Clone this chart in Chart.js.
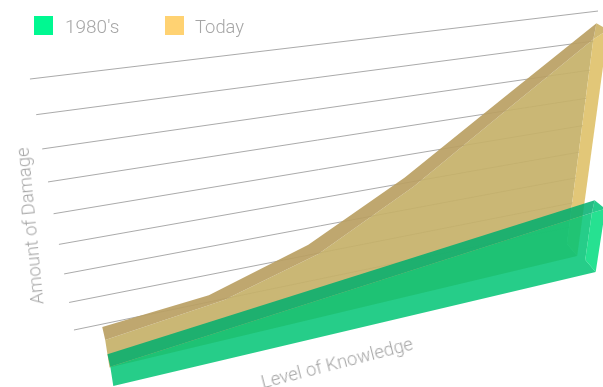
<!DOCTYPE html>
<html>
<head>
<meta charset="utf-8">
<title>Amount of Damage vs Level of Knowledge</title>
<script src="https://cdn.jsdelivr.net/npm/chart.js@4"></script>
<style>
  body { margin: 0; background: #fff; }
  #wrap { position: relative; width: 603px; height: 387px; overflow: hidden; font-family: Roboto, sans-serif; font-weight: 300; color: #a6a6a6; }
  #chart { position: absolute; left: 0; top: 0; }
  .swatch { position: absolute; top: 16px; width: 19px; height: 19px; }
  .txt { position: absolute; white-space: nowrap; font-size: 18.4px; line-height: 20px; }
</style>
</head>
<body>
<div id="wrap">
  <canvas id="chart" width="603" height="387"></canvas>
  <div class="swatch" style="left:34px;background:#00f891"></div>
  <div class="txt" style="left:65px;top:17px;font-size:19px">1980's</div>
  <div class="swatch" style="left:165px;background:#ffd272"></div>
  <div class="txt" style="left:195px;top:17px;font-size:18.4px">Today</div>
  <div class="txt" style="left:30px;top:226px;transform:translate(-50%,-50%) rotate(-95.5deg)">Amount of Damage</div>
  <div class="txt" style="left:337px;top:363px;transform:translate(-50%,-50%) rotate(-14.5deg)">Level of Knowledge</div>
</div>
<script>
// values, damage in grid steps
const damageTicks = [0, 1, 2, 3, 4, 5, 6, 7, 8];
const knowledge = [0, 1, 2, 3, 4, 5];
const today = [-0.1, 0.25, 1.39, 3.2, 5.41, 7.6];
const todayFrontKnowledge = [0, 1.14, 2.1, 3.1, 4.07, 5];
const todayFrontDamage = [-0.1, 0.46, 1.48, 3.32, 5.52, 7.6];
const eightiesKnowledge = [0, 5.29];
const eighties = [-0.65, 1.43];

// corners of the boxes that are not part of the series
const todaySideEnd = [5.147, 7.32];
const todayFloor = { left: -1.16, inner: -0.2, outer: -1.34 };
const eightiesSideEnd = [5.45, 0.97];
const eightiesFloor = { left: -1.42, inner: -0.6, outer: -1.27, outerKnowledge: 5.46 };

// tilted floor/wall plane -> page, w is depth towards the viewer
function project(k, damage, w) {
  const u = 0.047 + 0.1906 * k;
  const v = damage / 8;
  const den = 0.2051 * u - 0.1369 * v + 1 + 0.013 * w;
  return {
    x: (612.9 * u - 48.1 * v + 74 + 4.37 * w) / den,
    y: (-56.4 * u - 261.8 * v + 330 + 17.7 * w) / den,
  };
}

function ridge(xs, ys, w) {
  return xs.map((k, i) => project(k, ys[i], w));
}

function face(points, color) {
  return {
    data: points,
    showLine: true,
    fill: "shape",
    backgroundColor: color,
    borderWidth: 0,
    pointRadius: 0,
    tension: 0,
  };
}

// painted in this order
const layers = [];

damageTicks.forEach((tick) => {
  layers.push({
    data: [project(-0.247, tick, 0), project(5.0, tick, 0)],
    showLine: true,
    borderColor: "rgba(165,165,165,0.95)",
    borderWidth: 1,
    pointRadius: 0,
    fill: false,
  });
});

// Today box
const todayBack = ridge(knowledge, today, 0);
const todayFront = ridge(todayFrontKnowledge, todayFrontDamage, 1);
layers.push(face(
  todayFront.concat([
    project(5, todayFloor.inner, 1),
    project(todaySideEnd[0], todayFloor.outer, 0),
    project(0, todayFloor.left, 1),
  ]),
  "rgba(198,177,107,0.93)"
));
layers.push(face(
  [project(5, today[5], 1), project(todaySideEnd[0], todaySideEnd[1], 0),
   project(todaySideEnd[0], todayFloor.outer, 0), project(5, todayFloor.inner, 1)],
  "rgba(224,195,110,0.93)"
));
layers.push(face(
  [project(5, today[5], 0), project(todaySideEnd[0], todaySideEnd[1], 0), project(5, today[5], 1)],
  "rgba(205,180,105,0.93)"
));
layers.push(face(todayBack.concat(todayFront.slice().reverse()), "rgba(186,160,100,0.93)"));

// 1980's box
const eightiesBack = ridge(eightiesKnowledge, eighties, 1);
const eightiesFront = ridge(eightiesKnowledge, eighties, 2);
const endK = eightiesKnowledge[1];
const endV = eighties[1];
layers.push(face(
  eightiesFront.concat([
    project(endK, eightiesFloor.inner, 2),
    project(eightiesFloor.outerKnowledge, eightiesFloor.outer, 2),
    project(0, eightiesFloor.left, 2),
  ]),
  "rgba(0,196,116,0.85)"
));
layers.push(face(
  [project(endK, endV, 2), project(eightiesSideEnd[0], eightiesSideEnd[1], 1),
   project(eightiesFloor.outerKnowledge, eightiesFloor.outer, 2), project(endK, eightiesFloor.inner, 2)],
  "rgba(0,220,126,0.85)"
));
layers.push(face(
  [project(endK, endV, 1), project(eightiesSideEnd[0], eightiesSideEnd[1], 1), project(endK, endV, 2)],
  "rgba(0,195,120,0.85)"
));
layers.push(face(eightiesBack.concat(eightiesFront.slice().reverse()), "rgba(0,175,111,0.85)"));

new Chart(document.getElementById("chart"), {
  type: "scatter",
  data: { datasets: layers.reverse() },
  options: {
    responsive: false,
    animation: false,
    layout: { padding: 0 },
    plugins: {
      legend: { display: false },
      title: { display: false },
      tooltip: { enabled: false },
    },
    scales: {
      x: { type: "linear", display: false, min: 0, max: 603 },
      y: { type: "linear", display: false, min: 0, max: 387, reverse: true },
    },
  },
});
</script>
</body>
</html>
